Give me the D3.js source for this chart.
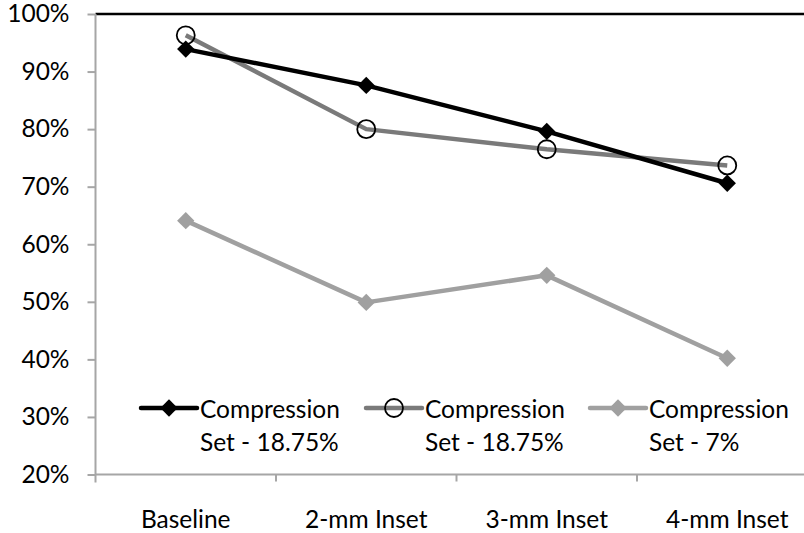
<!DOCTYPE html>
<html>
<head>
<meta charset="utf-8">
<script src="https://cdn.jsdelivr.net/npm/d3@7"></script>
<style>
  html, body { margin: 0; padding: 0; background: #fff; }
  svg { display: block; }
  text { font-family: Lato, "Open Sans", sans-serif; fill: #000; }
</style>
</head>
<body>
<svg id="chart" width="804" height="533"></svg>
<script>
// Categories along the x axis
const categories = ["Baseline", "2-mm Inset", "3-mm Inset", "4-mm Inset"];

// Series values (fraction of 1)
const seriesA = [0.939, 0.876, 0.796, 0.706]; // black, diamond
const seriesB = [0.963, 0.800, 0.765, 0.737]; // dark grey, open circle
const seriesC = [0.641, 0.499, 0.546, 0.402]; // light grey, diamond

const seriesNames = [
  ["Compression", "Set - 18.75%"],
  ["Compression", "Set - 18.75%"],
  ["Compression", "Set - 7%"]
];

const yTicks = [0.2, 0.3, 0.4, 0.5, 0.6, 0.7, 0.8, 0.9, 1.0];

const series = [
  { values: seriesA, color: "#000000", marker: "diamond", name: seriesNames[0] },
  { values: seriesB, color: "#7a7a7a", marker: "circle",  name: seriesNames[1] },
  { values: seriesC, color: "#a0a0a0", marker: "diamond", name: seriesNames[2] }
];

const svg = d3.select("#chart");
const plotLeft = 95.5, plotTop = 14, plotBottom = 474.5, plotRight = 804;
const fontSize = 24.5;

const y = d3.scaleLinear().domain([0.2, 1.0]).range([plotBottom, plotTop]);
// One band per category; the plot area runs past the right edge of the canvas
const x = d3.scaleBand().domain(categories).range([plotLeft, plotLeft + 4 * 180.5]).padding(0);
const cx = d => x(d) + x.bandwidth() / 2;

const axisColor = "#a6a6a6";

// top border
svg.append("line").attr("x1", plotLeft).attr("x2", plotRight).attr("y1", plotTop).attr("y2", plotTop)
  .attr("stroke", "#000").attr("stroke-width", 2.6);

// y axis
const yAxis = d3.axisLeft(y).tickValues(yTicks).tickSize(8).tickPadding(18)
  .tickFormat(d3.format(".0%"));
const gy = svg.append("g").attr("transform", `translate(${plotLeft},0)`).call(yAxis);
gy.select(".domain").remove();
gy.selectAll(".tick line").attr("stroke", axisColor).attr("stroke-width", 2);
gy.selectAll(".tick text").attr("font-size", fontSize).attr("fill", "#000")
  .style("font-family", "Lato, 'Open Sans', sans-serif");
svg.append("line").attr("x1", plotLeft).attr("x2", plotLeft).attr("y1", plotTop).attr("y2", plotBottom + 8)
  .attr("stroke", axisColor).attr("stroke-width", 2);

// x axis line
svg.append("line").attr("x1", plotLeft).attr("x2", plotRight).attr("y1", plotBottom).attr("y2", plotBottom)
  .attr("stroke", axisColor).attr("stroke-width", 2);
// x tick marks at category boundaries
svg.append("g").selectAll("line").data(categories.slice(1)).join("line")
  .attr("x1", d => x(d)).attr("x2", d => x(d))
  .attr("y1", plotBottom).attr("y2", plotBottom + 7)
  .attr("stroke", axisColor).attr("stroke-width", 2);
// x labels
svg.append("g").selectAll("text").data(categories).join("text")
  .attr("x", d => cx(d))
  .attr("y", 528)
  .attr("text-anchor", "middle")
  .attr("font-size", fontSize)
  .text(d => d);

function drawMarker(g, type, color) {
  if (type === "diamond") {
    g.append("path").attr("d", d3.symbol().type(d3.symbolSquare).size(150)())
      .attr("transform", "rotate(45)")
      .attr("fill", color);
  } else {
    g.append("circle").attr("r", 9).attr("fill", "none")
      .attr("stroke", "#000").attr("stroke-width", 1.8);
  }
}

const line = d3.line().x((d, i) => cx(categories[i])).y(d => y(d));

// draw lighter series first so the black one sits on top
[2, 1, 0].forEach(k => {
  const s = series[k];
  const g = svg.append("g");
  g.append("path").attr("d", line(s.values)).attr("fill", "none")
    .attr("stroke", s.color).attr("stroke-width", 4.5).attr("stroke-linejoin", "round");
  s.values.forEach((v, i) => {
    const m = g.append("g").attr("transform", `translate(${cx(categories[i])},${y(v)})`);
    drawMarker(m, s.marker, s.color);
  });
});

// legend
const legendX = [141, 366, 590];
const legendY = 408;
series.forEach((s, k) => {
  const g = svg.append("g").attr("transform", `translate(${legendX[k]},${legendY})`);
  g.append("line").attr("x1", 0).attr("x2", 56).attr("y1", 0).attr("y2", 0)
    .attr("stroke", s.color).attr("stroke-width", 4.5).attr("stroke-linecap", "round");
  const m = g.append("g").attr("transform", "translate(28,0)");
  drawMarker(m, s.marker, s.color);
  const t = g.append("text").attr("y", 10).attr("font-size", fontSize);
  t.append("tspan").attr("x", 59).attr("dy", 0).text(s.name[0]);
  t.append("tspan").attr("x", 59).attr("dy", 33).text(s.name[1]);
});
</script>
</body>
</html>
